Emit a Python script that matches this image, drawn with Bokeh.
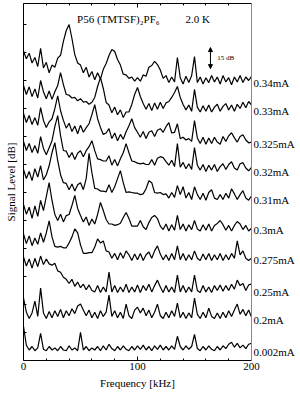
from bokeh.plotting import figure
from bokeh.models import LinearAxis, FixedTicker, Label, Arrow, NormalHead, Range1d
from bokeh.embed import file_html
from bokeh.resources import INLINE

# ---------------- data ----------------
freq_khz = [0, 2.5, 5, 7.5, 10, 12.5, 15, 17.5, 20, 22.5,
            25, 27.5, 30, 32.5, 35, 37.5, 40, 42.5, 45, 47.5,
            50, 52.5, 55, 57.5, 60, 62.5, 65, 67.5, 70, 72.5,
            75, 77.5, 80, 82.5, 85, 87.5, 90, 92.5, 95, 97.5,
            100, 102.5, 105, 107.5, 110, 112.5, 115, 117.5, 120, 122.5,
            125, 127.5, 130, 132.5, 135, 137.5, 140, 142.5, 145, 147.5,
            150, 152.5, 155, 157.5, 160, 162.5, 165, 167.5, 170, 172.5,
            175, 177.5, 180, 182.5, 185, 187.5, 190, 192.5, 195, 197.5,
            200]

current_labels = ["0.34mA", "0.33mA", "0.325mA", "0.32mA", "0.31mA",
                  "0.3mA", "0.275mA", "0.25mA", "0.2mA", "0.002mA"]

# vertical offset of each trace (dB)
offsets_db = [200, 180, 157, 137, 117, 95, 74, 51, 31, 8]

# signal level of each trace relative to its offset (dB)
level_034 = [21.0, 15.5, 19.5, 12.5, 16.5, 10.0, 22.9, 9.0, 13.0, 5.5,
             11.0, 9.5, 16.0, 18.0, 28.0, 35.7, 40.0, 30.0, 18.5, 12.5,
             11.0, 5.5, 9.5, 2.5, 6.5, 0.5, 5.5, 1.0, 8.0, 12.1,
             17.9, 22.1, 20.7, 15.0, 11.0, 4.5, 4.0, 1.5, 2.5, -0.5,
             2.0, -0.5, 4.0, 3.0, 9.5, 10.7, 13.6, 11.4, 7.5, 1.5,
             3.5, -1.5, 2.5, -1.0, 16.4, 2.0, -2.5, 3.0, -1.5, 3.5,
             17.1, -1.5, 2.5, -2.5, 2.0, -1.5, 3.5, -1.0, 2.5, -2.5,
             3.5, -1.0, 2.0, -3.0, 2.5, -1.0, 3.5, -1.5, 2.5, 0.0,
             3.0]
level_033 = [16.5, 10.0, 15.5, 8.5, 14.0, 7.5, 20.0, 12.0, 7.0, 12.5,
             6.5, 12.0, 16.4, 25.7, 17.1, 10.0, 9.5, 7.5, 8.0, 5.5,
             7.0, 4.5, 5.0, 3.0, 4.5, 7.9, 15.7, 22.1, 14.3, 4.3,
             2.5, -3.0, 1.0, -4.5, -1.0, -6.5, -2.5, -2.5, 2.9, 10.0,
             15.0, 8.6, 3.6, -0.5, 3.5, -1.5, 4.0, -0.5, 4.5, 0.0,
             4.0, 5.0, 7.9, 11.4, 15.7, 7.9, 2.9, -1.0, 2.5, -2.0,
             13.6, 1.0, -2.5, 2.0, -2.0, 2.5, -2.5, 1.0, 3.0, -2.0,
             1.5, 3.5, -1.0, 2.5, -2.0, 3.0, 0.0, 4.5, 0.5, 5.0,
             2.5]
level_0325 = [19.5, 13.0, 18.0, 11.5, 16.5, 11.0, 23.6, 14.5, 9.5, 13.5,
              15.7, 22.9, 32.1, 21.4, 14.5, 9.0, 12.5, 6.5, 10.5, 5.0,
              11.0, 6.0, 9.3, 12.1, 18.6, 25.7, 15.7, 9.5, 4.5, 5.5,
              8.6, 1.5, 5.5, 0.0, 4.5, 1.0, 6.4, 10.7, 15.7, 9.3,
              6.0, 2.5, 6.5, 1.5, 6.0, 7.1, 3.0, 7.5, 8.6, 6.0,
              10.0, 12.9, 5.5, 6.0, 12.1, 1.5, 2.5, 0.5, 1.5, -0.5,
              14.3, 2.0, -2.0, 2.5, -2.5, 2.0, -2.0, 2.5, -1.0, -2.5,
              3.0, -0.5, 3.5, 5.7, 2.0, -1.0, 3.0, 4.3, 0.5, -1.5,
              -1.0]
level_032 = [19.5, 13.0, 18.0, 11.5, 16.5, 11.0, 22.9, 14.5, 10.0, 15.0,
             20.0, 30.0, 37.9, 23.6, 13.0, 12.5, 8.0, 11.5, 6.5, 11.0,
             12.9, 8.5, 12.9, 15.7, 20.0, 12.9, 7.0, 6.5, 5.5, 5.5,
             9.3, 2.5, 6.5, 2.0, 7.1, 11.4, 17.9, 11.4, 5.5, 5.0,
             4.0, 3.5, 4.0, 3.0, 3.0, 6.5, 2.5, 7.5, 8.6, 7.9,
             5.0, 2.5, 6.0, 1.5, 17.9, 1.0, 4.5, 0.0, 3.5, -0.5,
             15.0, 2.5, -1.0, 3.0, -2.0, 2.5, -1.0, 3.0, -2.0, 1.5,
             3.5, -0.5, 3.0, 5.0, 0.5, -1.0, 3.5, 4.3, 0.5, -1.5,
             1.0]
level_031 = [19.5, 13.0, 18.0, 11.5, 20.0, 14.0, 22.1, 12.0, 15.7, 22.1,
             31.4, 38.6, 25.7, 15.7, 10.0, 9.5, 5.0, 9.0, 4.0, 8.5,
             10.0, 5.0, 12.9, 31.0, 17.1, 6.0, 5.5, 4.0, 4.0, 3.5,
             8.6, 3.0, 7.1, 12.9, 18.6, 10.0, 3.0, 3.5, 3.0, 2.5,
             2.5, 1.5, 2.0, 5.7, 11.4, 10.0, 3.0, 2.5, 3.0, 1.5,
             2.0, -1.0, 3.0, -0.5, 7.9, 1.5, 7.1, -1.0, 3.0, -2.0,
             7.1, 1.5, -2.0, 2.5, -2.5, 3.0, 5.0, -1.0, -2.0, 1.5,
             -2.0, 2.5, -1.0, 5.7, 2.0, -2.0, 1.5, 4.3, -1.0, -2.5,
             0.5]
level_030 = [16.5, 9.5, 14.5, 6.5, 15.5, 8.0, 19.3, 12.1, 22.1, 32.1,
             19.3, 9.3, 5.0, 9.5, 4.0, 8.5, 9.3, 15.7, 22.9, 13.6,
             8.6, 4.0, 7.5, 1.5, 6.0, 2.5, 9.3, 17.9, 12.1, 5.7,
             2.5, 2.5, 1.5, 2.0, 3.0, 7.1, 10.7, 6.4, 1.0, 1.0,
             1.0, 5.0, 0.5, -1.5, 3.5, 7.1, 8.6, 6.4, 1.0, -1.5,
             2.5, -2.5, 2.0, -2.0, 8.6, -1.5, 2.5, -2.5, 2.0, -1.5,
             5.0, -1.0, -2.5, 2.0, -2.0, 2.5, -2.5, 1.5, 2.9, 5.0,
             2.0, -2.0, 1.5, -2.5, 1.5, 4.3, 2.5, -1.5, 1.5, -2.5,
             -0.5]
level_0275 = [16.5, 9.5, 15.0, 8.0, 13.5, 9.0, 17.1, 10.5, 17.1, 25.7,
              14.3, 7.5, 7.0, 7.5, 6.5, 6.5, 10.0, 14.3, 20.0, 17.1,
              8.6, 2.5, 2.5, 3.0, 3.0, 7.1, 12.9, 10.0, 11.4, 4.3,
              3.5, -1.0, 2.5, -2.0, 3.0, -1.0, 4.3, 1.5, -2.5, 2.0,
              -2.0, 2.5, -2.5, 1.5, 3.5, -1.0, 4.3, 7.9, 2.0, -2.0,
              1.5, -2.5, 2.5, -2.0, 7.9, -2.0, 2.5, -2.5, 1.5, -2.0,
              4.3, -1.0, -2.5, 2.0, -2.0, 2.5, -2.5, 1.5, -2.0, 2.5,
              -2.5, 1.5, -2.0, 2.5, -1.0, 11.4, 1.5, 4.3, -1.0, -2.5,
              -1.0]
level_025 = [23.0, 16.5, 21.5, 15.0, 22.0, 16.0, 23.6, 17.5, 21.5, 18.0,
             17.1, 18.5, 13.0, 12.0, 8.5, 7.0, 4.0, 7.0, 2.0, 5.0,
             1.0, 3.5, -0.5, 3.0, -1.0, -2.0, 2.5, -2.5, 1.5, -2.0,
             12.1, -2.0, 2.5, -2.5, 1.5, -2.0, 3.5, -2.5, 1.5, -2.0,
             3.0, -2.5, 2.5, -1.0, 3.5, -2.0, 2.5, 6.4, 1.5, -2.5,
             2.5, -2.0, 1.5, -2.5, 10.0, -2.0, 2.5, -2.5, 1.5, -2.0,
             10.0, -1.0, -2.5, 2.5, -2.0, 1.5, -2.5, 2.5, -1.0, 3.0,
             -1.5, 2.5, -1.0, 3.5, 0.0, 6.4, 2.5, 4.0, -1.0, 3.0,
             3.5]
level_02 = [13.6, 3.5, -1.0, 3.0, 11.4, 0.5, 20.7, 3.0, -1.0, 4.0,
            -0.5, 4.5, 0.5, 5.5, -0.5, 4.5, 1.0, 6.0, 2.5, 7.9,
            9.3, 5.0, 1.0, 5.0, -0.5, 3.5, -1.0, 4.5, 0.5, 3.5,
            15.7, 0.5, 4.5, -0.5, 3.5, -1.0, 9.3, 1.0, -1.0, 5.0,
            7.1, 3.0, 6.4, 1.0, 5.0, -0.5, 3.5, 9.3, 1.0, -1.0,
            3.5, -0.5, 4.5, 0.5, 10.0, -0.5, 3.5, -1.0, 3.0, -0.5,
            13.6, 2.0, -1.0, 3.5, -0.5, 6.4, 0.5, -1.0, 3.0, -1.0,
            3.5, -0.5, 4.5, 0.5, 5.0, 9.3, 2.0, 5.5, 1.0, 5.0,
            0.0]
level_0002 = [16.4, 2.9, -0.5, 2.0, -1.0, 1.0, 11.4, 0.0, -1.0, 2.0,
              -0.5, 1.0, -1.0, 2.0, -0.5, -1.0, 2.5, -0.5, 1.0, -1.0,
              12.1, -0.5, 2.0, -1.0, 1.0, -0.5, 2.0, -1.0, 2.5, -0.5,
              3.6, 0.5, -1.0, 2.0, -0.5, 2.5, 0.0, -1.0, 2.0, -0.5,
              2.5, 0.0, 3.0, -0.5, 2.0, -1.0, 2.5, 0.0, 3.0, -0.5,
              2.0, -0.5, 2.5, 0.0, 9.3, 2.0, -0.5, 2.5, 0.0, 2.0,
              10.7, 0.5, -1.0, 2.0, -0.5, 2.5, 0.0, -1.0, 2.0, -0.5,
              2.5, 0.5, 3.6, 5.0, 1.5, 4.3, 1.0, 3.0, 0.5, 3.6,
              4.3]

levels = [level_034, level_033, level_0325, level_032, level_031,
          level_030, level_0275, level_025, level_02, level_0002]

x_major_ticks = [0, 100, 200]
x_minor_ticks = [20, 40, 60, 80, 120, 140, 160, 180]
y_ticks = [20, 40, 60, 80, 100, 120, 140, 160, 180, 200, 220, 240]

title_left = "P56  (TMTSF)\u2082PF\u2086"
title_right = "2.0 K"
x_title = "Frequency [kHz]"
y_title = "Signal Level [dB]"
scale_bar_db = 15

# ---------------- figure ----------------
SERIF = "Liberation Serif"

p = figure(width=300, height=394, output_backend="svg", toolbar_location=None,
           x_range=Range1d(0, 200), y_range=Range1d(0, 255),
           min_border_left=23, min_border_right=49, min_border_top=3,
           min_border_bottom=34)
p.grid.visible = False
p.outline_line_color = None
p.background_fill_color = "white"
p.border_fill_color = "white"

for lv, off in zip(levels, offsets_db):
    p.line(freq_khz, [off + v for v in lv], line_color="black", line_width=1.2)

# bottom axis
xa = p.xaxis[0]
xa.ticker = FixedTicker(ticks=x_major_ticks, minor_ticks=x_minor_ticks)
xa.major_tick_in = 4
xa.major_tick_out = 0
xa.minor_tick_in = 2
xa.minor_tick_out = 0
xa.major_label_text_font = SERIF
xa.major_label_text_font_size = "11px"
xa.major_label_text_color = "black"
xa.major_label_standoff = 2
xa.axis_label = x_title
xa.axis_label_text_font = SERIF
xa.axis_label_text_font_size = "11px"
xa.axis_label_text_font_style = "normal"
xa.axis_label_text_color = "black"
xa.axis_label_standoff = 4
xa.axis_line_color = "black"

# left axis (ticks only, plus title)
ya = p.yaxis[0]
ya.ticker = FixedTicker(ticks=y_ticks)
ya.major_tick_in = 3
ya.major_tick_out = 0
ya.minor_tick_line_color = None
ya.major_label_text_color = None
ya.major_label_text_font_size = "1px"
ya.major_label_standoff = 0
ya.axis_label = y_title
ya.axis_label_text_font = SERIF
ya.axis_label_text_font_size = "11px"
ya.axis_label_text_font_style = "normal"
ya.axis_label_text_color = "black"
ya.axis_label_standoff = 7

# top axis (ticks only)
top = LinearAxis(ticker=FixedTicker(ticks=x_major_ticks, minor_ticks=x_minor_ticks))
top.major_tick_in = 4
top.major_tick_out = 0
top.minor_tick_in = 2
top.minor_tick_out = 0
top.major_label_text_color = None
top.major_label_text_font_size = "1px"
top.major_label_standoff = 0
p.add_layout(top, "above")

# right axis carrying the current labels
label_levels = [o - 2 for o in offsets_db]
right = LinearAxis(ticker=FixedTicker(ticks=label_levels),
                   major_label_overrides={lv: t for lv, t in zip(label_levels, current_labels)})
right.major_tick_in = 0
right.major_tick_out = 0
right.minor_tick_in = 0
right.minor_tick_out = 0
right.major_tick_line_color = None
right.minor_tick_line_color = None
right.axis_line_color = "#888888"
right.major_label_standoff = 2
right.major_label_text_font = SERIF
right.major_label_text_font_size = "11px"
right.major_label_text_color = "black"
p.add_layout(right, "right")

# title inside the plot
p.add_layout(Label(x=47, y=244, text=title_left, text_font=SERIF,
                   text_font_size="11px", text_color="black", text_baseline="middle"))
p.add_layout(Label(x=142, y=244, text=title_right, text_font=SERIF,
                   text_font_size="11px", text_color="black", text_baseline="middle"))

# 15 dB scale bar
bar_bottom = 208.5
p.add_layout(Arrow(x_start=164, y_start=bar_bottom, x_end=164,
                   y_end=bar_bottom + scale_bar_db, line_width=1, line_color="black",
                   start=NormalHead(size=4, fill_color="black", line_color="black"),
                   end=NormalHead(size=4, fill_color="black", line_color="black")))
p.add_layout(Label(x=170, y=bar_bottom + scale_bar_db / 2, text=f"{scale_bar_db} dB",
                   text_font=SERIF, text_font_size="7px", text_color="black",
                   text_baseline="middle"))

open("out.html", "w").write(file_html(p, INLINE))
